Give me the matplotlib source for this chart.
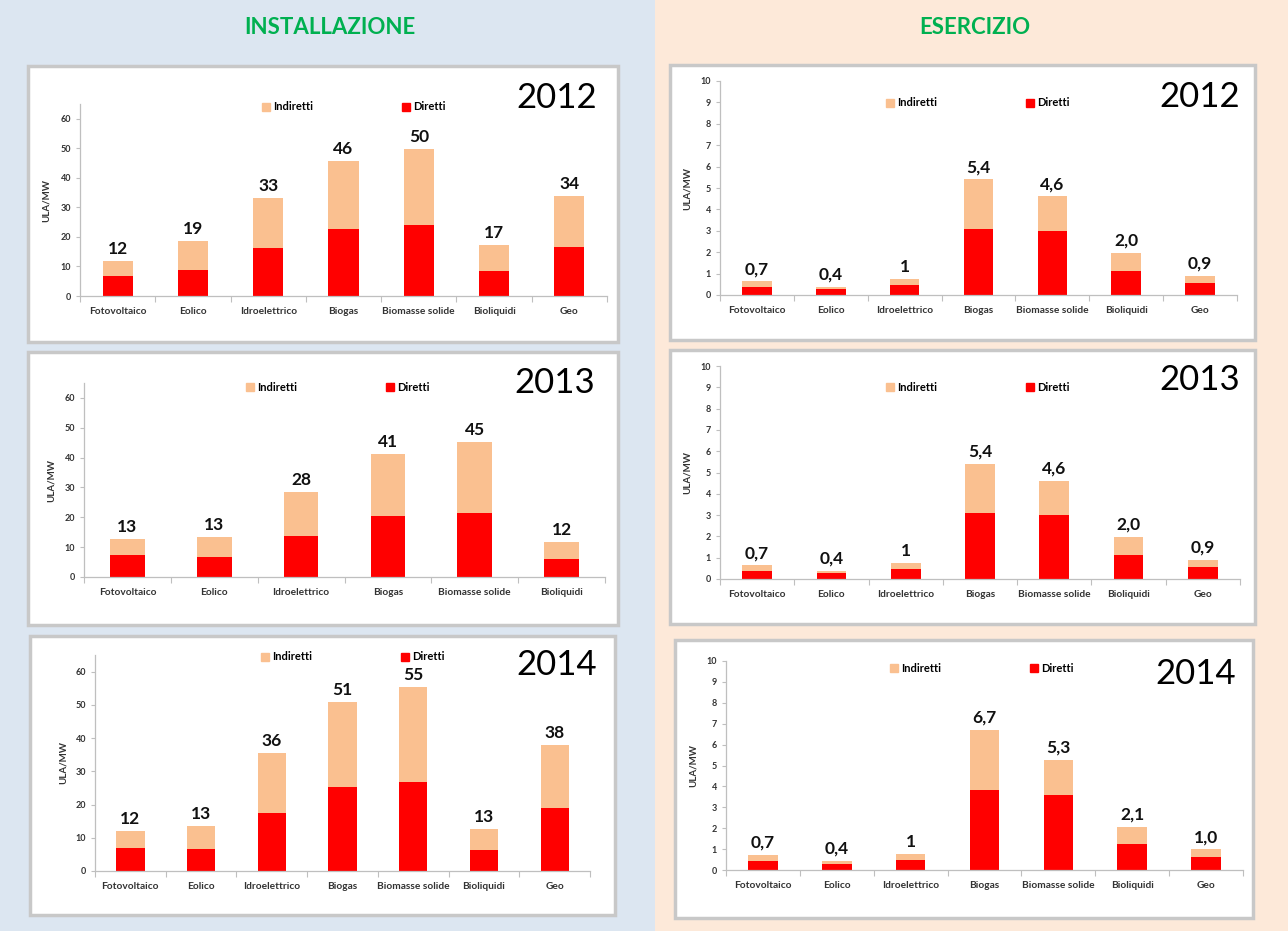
import numpy as np
import matplotlib
matplotlib.use("Agg")
import matplotlib.pyplot as plt
from matplotlib.patches import Rectangle, Patch

plt.rcParams['font.family'] = ['Lato', 'DejaVu Sans']

W, H = 1288, 931

categories = ["Fotovoltaico", "Eolico", "Idroelettrico", "Biogas",
              "Biomasse solide", "Bioliquidi", "Geo"]

# installazione (ULA/MW)
inst_2012_dir = [6.8, 8.8, 16.1, 22.7, 23.9, 8.5, 16.7]
inst_2012_ind = [5.1, 9.8, 17.0, 23.0, 25.7, 8.7, 17.2]
inst_2012_lab = ["12", "19", "33", "46", "50", "17", "34"]

inst_2013_dir = [7.5, 6.6, 13.8, 20.5, 21.6, 5.9]
inst_2013_ind = [5.3, 6.8, 14.7, 20.8, 23.6, 5.8]
inst_2013_lab = ["13", "13", "28", "41", "45", "12"]

inst_2014_dir = [7.0, 6.7, 17.6, 25.4, 26.8, 6.3, 18.9]
inst_2014_ind = [5.1, 6.7, 18.0, 25.5, 28.5, 6.2, 19.0]
inst_2014_lab = ["12", "13", "36", "51", "55", "13", "38"]

# esercizio (ULA/MW)
eser_2012_dir = [0.39, 0.26, 0.45, 3.08, 3.00, 1.12, 0.55]
eser_2012_ind = [0.25, 0.13, 0.28, 2.32, 1.61, 0.86, 0.34]
eser_2012_lab = ["0,7", "0,4", "1", "5,4", "4,6", "2,0", "0,9"]

eser_2013_dir = [0.39, 0.26, 0.45, 3.08, 3.00, 1.12, 0.55]
eser_2013_ind = [0.25, 0.13, 0.28, 2.32, 1.61, 0.86, 0.34]
eser_2013_lab = ["0,7", "0,4", "1", "5,4", "4,6", "2,0", "0,9"]

eser_2014_dir = [0.41, 0.27, 0.46, 3.81, 3.57, 1.24, 0.61]
eser_2014_ind = [0.31, 0.16, 0.32, 2.89, 1.69, 0.82, 0.38]
eser_2014_lab = ["0,7", "0,4", "1", "6,7", "5,3", "2,1", "1,0"]

RED = '#ff0000'
PEACH = '#fac090'
TXT = '#333333'


def fx(x):
    return x / W


def fy(y):
    return 1 - y / H


def rect(fig, x0, y0, x1, y1, **kw):
    r = Rectangle((fx(x0), fy(y1)), (x1 - x0) / W, (y1 - y0) / H,
                  transform=fig.transFigure, **kw)
    fig.add_artist(r)


def draw(fig, box, axbox, year, yearpos, legpos, cats, dirv, indv, labels, ymax, yticks):
    rect(fig, *box, facecolor='white', edgecolor='#c8c8c8', lw=2.5, zorder=-1)
    x0, y0, x1, y1 = axbox
    ax = fig.add_axes([fx(x0), fy(y1), (x1 - x0) / W, (y1 - y0) / H])
    ax.set_facecolor('none')
    n = len(cats)
    x = np.arange(n)
    ax.bar(x, dirv, width=0.4, color=RED, zorder=2)
    ax.bar(x, indv, bottom=dirv, width=0.4, color=PEACH, zorder=2)
    for xi, d, i, lab in zip(x, dirv, indv, labels):
        ax.annotate(lab, (xi, d + i), xytext=(0, 3), textcoords='offset points',
                    ha='center', va='bottom', fontsize=12.5, fontweight='bold', color='#111111')
    ax.set_xlim(-0.5, n - 0.5)
    ax.set_ylim(0, ymax)
    ax.set_yticks(yticks)
    ax.tick_params(axis='y', labelsize=6.5, colors=TXT, length=3, width=0.8, color='#bfbfbf')
    for t in ax.get_yticklabels():
        t.set_fontweight('bold')
    ax.set_xticks(x)
    ax.set_xticklabels(cats, fontsize=7.3, fontweight='bold', color=TXT)
    ax.tick_params(axis='x', which='major', length=0, pad=8)
    ax.set_xticks(np.arange(-0.5, n, 1), minor=True)
    ax.tick_params(axis='x', which='minor', length=4, width=0.8, color='#bfbfbf')
    for s in ['top', 'right']:
        ax.spines[s].set_visible(False)
    for s in ['left', 'bottom']:
        ax.spines[s].set_color('#bfbfbf')
        ax.spines[s].set_linewidth(0.9)
    ax.set_ylabel("ULA/MW", fontsize=7, fontweight='bold', color=TXT)
    ax.yaxis.set_label_coords(-0.055, 0.5)
    handles = [Patch(color=PEACH, label='Indiretti'), Patch(color=RED, label='Diretti')]
    fig.legend(handles=handles, loc='center', bbox_to_anchor=(fx(legpos[0]), fy(legpos[1])),
               ncol=2, frameon=False, handlelength=0.7, handleheight=0.7,
               handletextpad=0.3, columnspacing=8.0,
               prop={'weight': 'bold', 'size': 8})
    fig.text(fx(yearpos[0]), fy(yearpos[1]), year, ha='right', va='center',
             fontsize=25, color='black')
    return ax


fig = plt.figure(figsize=(W / 100, H / 100), dpi=100)
rect(fig, 0, 0, 655, H, facecolor='#dce6f1', edgecolor='none', zorder=-2)
rect(fig, 655, 0, W, H, facecolor='#fde9d9', edgecolor='none', zorder=-2)

fig.text(fx(330), fy(27), "INSTALLAZIONE", ha='center', va='center',
         fontsize=16, fontweight='bold', color='#00b050')
fig.text(fx(975), fy(27), "ESERCIZIO", ha='center', va='center',
         fontsize=16, fontweight='bold', color='#00b050')

inst_ticks = [0, 10, 20, 30, 40, 50, 60]
eser_ticks = list(range(0, 11))

draw(fig, (28, 66, 618, 342), (80, 104, 607, 296), "2012", (597, 98), (354, 107),
     categories, inst_2012_dir, inst_2012_ind, inst_2012_lab, 65, inst_ticks)
draw(fig, (28, 352, 618, 625), (84, 383, 605, 577), "2013", (595, 383), (338, 387),
     categories[:6], inst_2013_dir, inst_2013_ind, inst_2013_lab, 65, inst_ticks)
draw(fig, (30, 636, 615, 915), (95, 655, 590, 871), "2014", (597, 665), (353, 657),
     categories, inst_2014_dir, inst_2014_ind, inst_2014_lab, 65, inst_ticks)

draw(fig, (670, 65, 1255, 340), (720, 81, 1237, 295), "2012", (1240, 97), (978, 103),
     categories, eser_2012_dir, eser_2012_ind, eser_2012_lab, 10, eser_ticks)
draw(fig, (670, 350, 1255, 624), (720, 366, 1240, 579), "2013", (1240, 380), (978, 387),
     categories, eser_2013_dir, eser_2013_ind, eser_2013_lab, 10, eser_ticks)
draw(fig, (675, 640, 1253, 918), (726, 661, 1243, 870), "2014", (1236, 674), (982, 668),
     categories, eser_2014_dir, eser_2014_ind, eser_2014_lab, 10, eser_ticks)

fig.savefig("out.png", dpi=100)
